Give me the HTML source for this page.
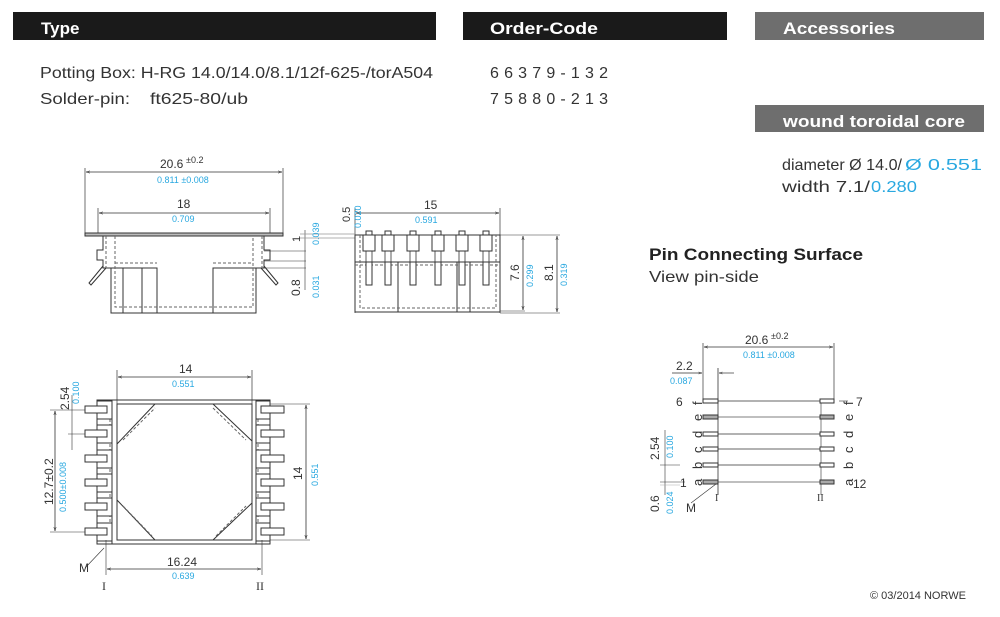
<!DOCTYPE html>
<html><head><meta charset="utf-8"><style>
html,body{margin:0;padding:0;background:#fff;width:1000px;height:617px;overflow:hidden}
svg{display:block;font-family:"Liberation Sans",sans-serif}
</style></head><body>
<svg width="1000" height="617" viewBox="0 0 1000 617" xmlns="http://www.w3.org/2000/svg">
<defs>
<marker id="a" viewBox="0 0 10 10" refX="10" refY="5" markerWidth="7" markerHeight="5" orient="auto-start-reverse"><path d="M0,2 L10,5 L0,8" fill="none" stroke="#333" stroke-width="1.2"/></marker>
</defs>
<rect x="13" y="12" width="423" height="28" fill="#1a1a1a"/>
<rect x="463" y="12" width="264" height="28" fill="#1a1a1a"/>
<rect x="755" y="12" width="229" height="28" fill="#6e6e6e"/>
<rect x="755" y="105" width="229" height="27" fill="#6e6e6e"/>
<g fill="#fff" font-weight="bold" font-size="17">
<text x="41" y="34">Type</text>
<text x="490" y="34" textLength="108" lengthAdjust="spacingAndGlyphs">Order-Code</text>
<text x="783" y="34" textLength="112" lengthAdjust="spacingAndGlyphs">Accessories</text>
<text x="783" y="127" textLength="182" lengthAdjust="spacingAndGlyphs">wound toroidal core</text>
</g>
<g fill="#333" font-size="16">
<text x="40" y="78" textLength="393" lengthAdjust="spacingAndGlyphs">Potting Box: H-RG 14.0/14.0/8.1/12f-625-/torA504</text>
<text x="40" y="104" textLength="90" lengthAdjust="spacingAndGlyphs">Solder-pin:</text>
<text x="150" y="104" textLength="98" lengthAdjust="spacingAndGlyphs">ft625-80/ub</text>
<text x="490" y="78" textLength="118" lengthAdjust="spacing">66379-132</text>
<text x="490" y="104" textLength="118" lengthAdjust="spacing">75880-213</text>
<text x="782" y="170" textLength="120" lengthAdjust="spacingAndGlyphs">diameter Ø 14.0/</text>
<text x="905" y="170" fill="#29a8e0" textLength="77" lengthAdjust="spacingAndGlyphs">Ø 0.551</text>
<text x="782" y="192" textLength="88" lengthAdjust="spacingAndGlyphs">width 7.1/</text>
<text x="871" y="192" fill="#29a8e0" textLength="46" lengthAdjust="spacingAndGlyphs">0.280</text>
<text x="649" y="260" font-weight="bold" fill="#222" font-size="17" textLength="214" lengthAdjust="spacingAndGlyphs">Pin Connecting Surface</text>
<text x="649" y="282" textLength="110" lengthAdjust="spacingAndGlyphs">View pin-side</text>
<text x="870" y="599" font-size="11">© 03/2014 NORWE</text>
</g>

<g stroke="#333" stroke-width="1" fill="none">
<line x1="85" y1="168" x2="85" y2="233" stroke-width="0.7"/>
<line x1="283" y1="168" x2="283" y2="233" stroke-width="0.7"/>
<line x1="86" y1="172" x2="282" y2="172" marker-start="url(#a)" marker-end="url(#a)" stroke-width="0.8"/>
<line x1="98" y1="208" x2="98" y2="234" stroke-width="0.7"/>
<line x1="270" y1="208" x2="270" y2="234" stroke-width="0.7"/>
<line x1="99" y1="213" x2="269" y2="213" marker-start="url(#a)" marker-end="url(#a)" stroke-width="0.8"/>
<rect x="85" y="233" width="198" height="3" fill="#bbb"/>
<path d="M103,236 V250 H97 V260 H103 V268 H111 V313 H256 V268 H264 V260 H270 V250 H264 V236"/>
<path d="M111,268 H157 V313 M213,313 V268 H256"/>
<line x1="123" y1="268" x2="123" y2="313"/><line x1="142" y1="268" x2="142" y2="313"/>
<g stroke-dasharray="3,2" stroke="#666">
<path d="M106,236 V268 M262,236 V268 M115,236 V307 H253 V236 M115,263 H157 M213,263 H253"/>
</g>
<path d="M103,266 L89,283 L91,285 L106,268"/>
<path d="M264,266 L278,283 L276,285 L261,268"/>
<g stroke-width="0.6"><line x1="264" y1="251" x2="306" y2="251"/><line x1="264" y1="261" x2="306" y2="261"/><line x1="264" y1="268" x2="306" y2="268"/>
<line x1="305" y1="230" x2="305" y2="290"/></g>

<line x1="355" y1="208" x2="355" y2="313" stroke-width="0.7"/>
<line x1="500" y1="208" x2="500" y2="313" stroke-width="0.7"/>
<line x1="356" y1="213" x2="499" y2="213" marker-start="url(#a)" marker-end="url(#a)" stroke-width="0.8"/>
<line x1="300" y1="234" x2="355" y2="234" stroke="#999" stroke-width="0.7"/>
<line x1="300" y1="238" x2="355" y2="238" stroke="#999" stroke-width="0.7"/>
<rect x="355" y="235" width="145" height="77"/>
<line x1="355" y1="262" x2="500" y2="262"/>
<path d="M398,262 V312 M457,262 V312 M470,262 V312"/>
<g stroke-dasharray="3,2" stroke="#666"><path d="M360,235 V308 H496 V235 M355,265 H500"/></g>
<g fill="#fff">
<rect x="363" y="235" width="12" height="16"/><rect x="382" y="235" width="12" height="16"/><rect x="407" y="235" width="12" height="16"/><rect x="432" y="235" width="12" height="16"/><rect x="456" y="235" width="12" height="16"/><rect x="480" y="235" width="12" height="16"/>
<rect x="366" y="231" width="6" height="4"/><rect x="385" y="231" width="6" height="4"/><rect x="410" y="231" width="6" height="4"/><rect x="435" y="231" width="6" height="4"/><rect x="459" y="231" width="6" height="4"/><rect x="483" y="231" width="6" height="4"/>
<rect x="366" y="262" width="6" height="23"/><rect x="385" y="262" width="6" height="23"/><rect x="410" y="262" width="6" height="23"/><rect x="435" y="262" width="6" height="23"/><rect x="459" y="262" width="6" height="23"/><rect x="483" y="262" width="6" height="23"/>
</g>
<path d="M366,251 V262 M372,251 V262 M385,251 V262 M391,251 V262 M410,251 V262 M416,251 V262 M435,251 V262 M441,251 V262 M459,251 V262 M465,251 V262 M483,251 V262 M489,251 V262" stroke-width="0.8"/>
<g stroke-width="0.6"><line x1="500" y1="235" x2="560" y2="235"/><line x1="500" y1="311" x2="525" y2="311"/><line x1="500" y1="313" x2="560" y2="313"/></g>
<line x1="523" y1="236" x2="523" y2="310" marker-start="url(#a)" marker-end="url(#a)" stroke-width="0.8"/>
<line x1="557" y1="236" x2="557" y2="312" marker-start="url(#a)" marker-end="url(#a)" stroke-width="0.8"/>

<line x1="117" y1="370" x2="117" y2="404" stroke-width="0.7"/>
<line x1="252" y1="370" x2="252" y2="404" stroke-width="0.7"/>
<line x1="118" y1="377" x2="251" y2="377" marker-start="url(#a)" marker-end="url(#a)" stroke-width="0.8"/>
<rect x="97" y="400" width="173" height="144"/>
<rect x="117" y="404" width="135" height="136"/>
<path d="M112,400 V544 M256,400 V544"/>
<path d="M117,444 L155,404 M213,404 L252,441 M117,500 L155,540 M213,540 L252,503"/>
<g stroke-dasharray="3,2" stroke="#666"><path d="M123,440 L155,408 M213,408 L246,440 M123,506 L152,536 M216,536 L246,506 M110,404 V540 M258,404 V540"/></g>
<g fill="#fff">
<rect x="97" y="401" width="15" height="18"/><rect x="97" y="425" width="15" height="18"/><rect x="97" y="450" width="15" height="18"/><rect x="97" y="474" width="15" height="18"/><rect x="97" y="498" width="15" height="18"/><rect x="97" y="523" width="15" height="18"/>
<rect x="256" y="401" width="14" height="18"/><rect x="256" y="425" width="14" height="18"/><rect x="256" y="450" width="14" height="18"/><rect x="256" y="474" width="14" height="18"/><rect x="256" y="498" width="14" height="18"/><rect x="256" y="523" width="14" height="18"/>
<rect x="85" y="406" width="22" height="7"/><rect x="85" y="430" width="22" height="7"/><rect x="85" y="455" width="22" height="7"/><rect x="85" y="479" width="22" height="7"/><rect x="85" y="503" width="22" height="7"/><rect x="85" y="528" width="22" height="7"/>
<rect x="261" y="406" width="23" height="7"/><rect x="261" y="430" width="23" height="7"/><rect x="261" y="455" width="23" height="7"/><rect x="261" y="479" width="23" height="7"/><rect x="261" y="503" width="23" height="7"/><rect x="261" y="528" width="23" height="7"/>
</g>
<g stroke-width="0.6"><line x1="50" y1="410" x2="85" y2="410"/><line x1="50" y1="532" x2="85" y2="532"/><line x1="68" y1="434" x2="85" y2="434"/>
<line x1="270" y1="404" x2="310" y2="404"/><line x1="270" y1="540" x2="310" y2="540"/>
<line x1="106" y1="540" x2="106" y2="575"/><line x1="262" y1="540" x2="262" y2="575"/>
<line x1="72" y1="395" x2="72" y2="450"/><line x1="85" y1="568" x2="104" y2="548"/></g>
<line x1="55" y1="411" x2="55" y2="531" marker-start="url(#a)" marker-end="url(#a)" stroke-width="0.8"/>
<line x1="306" y1="405" x2="306" y2="539" marker-start="url(#a)" marker-end="url(#a)" stroke-width="0.8"/>
<line x1="107" y1="569" x2="261" y2="569" marker-start="url(#a)" marker-end="url(#a)" stroke-width="0.8"/>

<line x1="703" y1="343" x2="703" y2="401" stroke-width="0.7"/>
<line x1="834" y1="343" x2="834" y2="401" stroke-width="0.7"/>
<line x1="704" y1="347" x2="833" y2="347" marker-start="url(#a)" marker-end="url(#a)" stroke-width="0.8"/>
<line x1="672" y1="373" x2="702" y2="373" marker-end="url(#a)" stroke-width="0.7"/>
<line x1="734" y1="373" x2="719" y2="373" marker-end="url(#a)" stroke-width="0.7"/>
<line x1="718" y1="368" x2="718" y2="495" stroke-width="0.8"/>
<line x1="821" y1="400" x2="821" y2="495" stroke="#aaa" stroke-width="1.5"/>
<g stroke-width="0.8">
<line x1="718" y1="401" x2="820" y2="401"/><line x1="718" y1="417" x2="820" y2="417" stroke="#aaa" stroke-width="1.5"/><line x1="718" y1="434" x2="820" y2="434"/><line x1="718" y1="449" x2="820" y2="449"/><line x1="718" y1="465" x2="820" y2="465"/><line x1="718" y1="482" x2="820" y2="482" stroke="#aaa" stroke-width="1.5"/>
</g>
<g fill="#fff">
<rect x="703" y="399" width="15" height="4"/><rect x="703" y="432" width="15" height="4"/><rect x="703" y="447" width="15" height="4"/><rect x="703" y="463" width="15" height="4"/>
<rect x="820" y="399" width="14" height="4"/><rect x="820" y="432" width="14" height="4"/><rect x="820" y="447" width="14" height="4"/><rect x="820" y="463" width="14" height="4"/>
</g>
<g fill="#aaa"><rect x="703" y="415" width="15" height="4"/><rect x="703" y="480" width="15" height="4"/><rect x="820" y="415" width="14" height="4"/><rect x="820" y="480" width="14" height="4"/></g>
<g stroke-width="0.6"><line x1="660" y1="465" x2="680" y2="465"/><line x1="660" y1="482" x2="685" y2="482"/><line x1="665" y1="430" x2="665" y2="495"/><line x1="660" y1="485" x2="680" y2="485" stroke="#aaa"/><line x1="691" y1="503" x2="716" y2="484"/>
<line x1="839" y1="401" x2="848" y2="401"/></g>
</g>

<g fill="#333" font-size="12">
<text x="160" y="168">20.6</text><text x="186" y="163" font-size="9">±0.2</text>
<text x="177" y="208" font-size="12">18</text>
<text x="424" y="209">15</text>
<text x="179" y="373">14</text>
<text x="167" y="566">16.24</text>
<text x="745" y="344">20.6</text><text x="771" y="339" font-size="9">±0.2</text>
<text x="676" y="370">2.2</text>
<text x="676" y="406">6</text><text x="856" y="406">7</text>
<text x="680" y="487">1</text><text x="853" y="488">12</text>
<text x="686" y="512">M</text><text x="79" y="572">M</text>
<text x="102" y="590" font-family="Liberation Serif">I</text><text x="256" y="590" font-family="Liberation Serif">II</text>
<text x="715" y="501" font-size="10" font-family="Liberation Serif">I</text><text x="817" y="501" font-size="10" font-family="Liberation Serif">II</text>
<g transform="rotate(-90)">
<text x="-242" y="300" font-size="11">1</text>
<text x="-296" y="300" font-size="12">0.8</text>
<text x="-222" y="350" font-size="11">0.5</text>
<text x="-281" y="519">7.6</text>
<text x="-281" y="553">8.1</text>
<text x="-410" y="69">2.54</text>
<text x="-505" y="53">12.7±0.2</text>
<text x="-480" y="302">14</text>
<text x="-460" y="659">2.54</text>
<text x="-512" y="659">0.6</text>
<g font-size="13">
<text x="-405" y="702">f</text><text x="-421" y="702">e</text><text x="-438" y="702">d</text><text x="-453" y="702">c</text><text x="-469" y="702">b</text><text x="-486" y="702">a</text>
<text x="-405" y="853">f</text><text x="-421" y="853">e</text><text x="-438" y="853">d</text><text x="-453" y="853">c</text><text x="-469" y="853">b</text><text x="-486" y="853">a</text>
</g>
</g>
</g>
<g fill="#29a8e0" font-size="9">
<text x="157" y="183">0.811 ±0.008</text>
<text x="172" y="222">0.709</text>
<text x="415" y="223">0.591</text>
<text x="172" y="387">0.551</text>
<text x="172" y="579">0.639</text>
<text x="743" y="358">0.811 ±0.008</text>
<text x="670" y="384">0.087</text>
<g transform="rotate(-90)">
<text x="-245" y="319">0.039</text>
<text x="-298" y="319">0.031</text>
<text x="-228" y="361">0.020</text>
<text x="-287" y="533">0.299</text>
<text x="-286" y="567">0.319</text>
<text x="-404" y="79">0.100</text>
<text x="-512" y="66">0.500±0.008</text>
<text x="-486" y="318">0.551</text>
<text x="-458" y="673">0.100</text>
<text x="-514" y="673">0.024</text>
</g>
</g>
</svg>
</body></html>
